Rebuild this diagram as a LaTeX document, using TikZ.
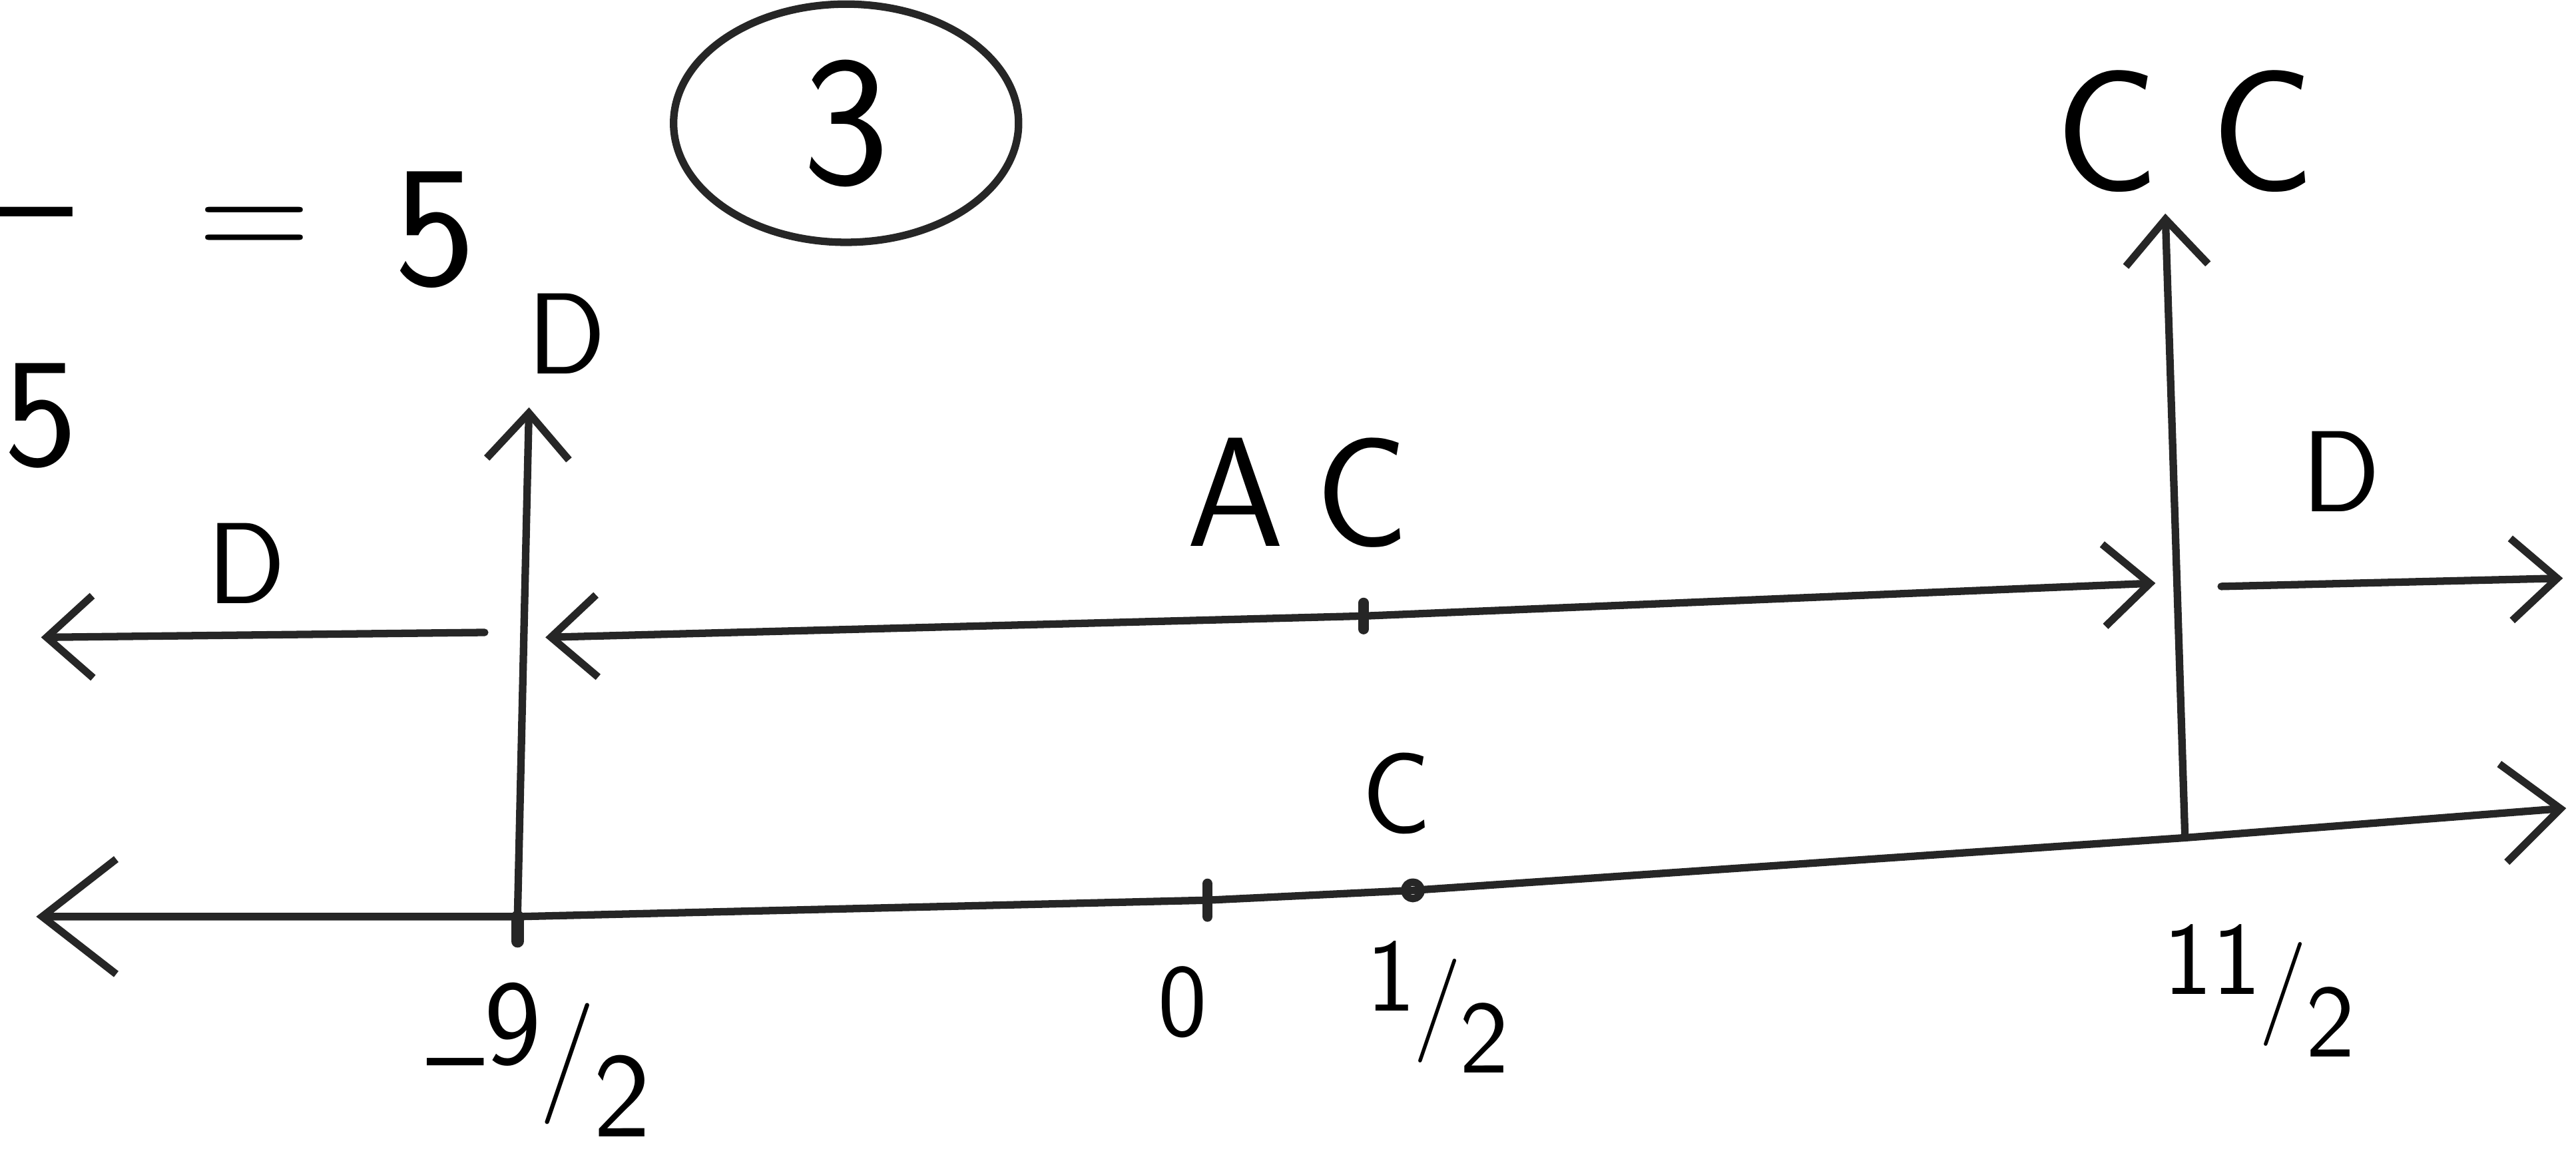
\documentclass[tikz,border=0pt]{standalone}
\usepackage{fontspec}
\usetikzlibrary{arrows.meta, shapes.geometric, calc}

\newcommand\slfrac[2]{\raisebox{0.25em}{#1}\kern-0.02em/\kern-0.02em\raisebox{-0.35em}{#2}}

\begin{document}
\begin{tikzpicture}[
    ink/.style={draw=black!85, line width=1.3pt, line cap=round, line join=round},
    arr/.style={ink, -{Straight Barb[length=2.8mm, width=5mm, line width=1.3pt]}},
    dblarr/.style={ink, {Straight Barb[length=2.8mm, width=5mm, line width=1.3pt]}-{Straight Barb[length=2.8mm, width=5mm, line width=1.3pt]}},
    axisarr/.style={ink, {Straight Barb[length=4.5mm, width=7mm, line width=1.3pt]}-{Straight Barb[length=3.5mm, width=6mm, line width=1.3pt]}},
    lbl/.style={font=\fontsize{20}{24}\selectfont\sffamily, inner sep=1pt},
    biglbl/.style={font=\fontsize{27}{32}\selectfont\sffamily, inner sep=1pt},
    numlbl/.style={font=\fontsize{18}{22}\selectfont\sffamily, inner sep=1pt}
  ]
    \useasboundingbox (0,0) rectangle (15.68,7.15);
    \clip (0,0) rectangle (15.68,7.15);

    % bits of the working at the top left
    \node[biglbl] (dash) at (0.22,5.75) {--};
    \node[biglbl] (eqsign) at (1.55,5.72) {=};
    \node[font=\fontsize{30}{34}\selectfont\sffamily] (five) at (2.65,5.75) {5};
    \node[biglbl] (fivecut) at (0.25,4.62) {5};
    \node[ellipse, ink, minimum width=2.1cm, minimum height=1.45cm,
          font=\fontsize{32}{36}\selectfont\sffamily] (qnum) at (5.15,6.40) {3};

    % number line
    \coordinate (lend) at (0.22,1.57);
    \coordinate (m92) at (3.15,1.57);
    \coordinate (zero) at (7.35,1.67);
    \coordinate (half) at (8.60,1.73);
    \coordinate (p112) at (13.30,2.05);
    \coordinate (rend) at (15.62,2.23);
    \draw[axisarr] (lend) -- (m92) -- (zero) -- (half) -- (p112) -- (rend);
    \draw[ink, line width=2.2pt] (m92) -- ++(0,-0.15);
    \draw[ink, line width=1.8pt] ($(zero)+(0,0.1)$) -- ++(0,-0.2);
    \draw[ink] (half) circle (0.05);

    \node[font=\fontsize{21}{25}\selectfont\sffamily, inner sep=1pt] (lm92) at (3.28,0.70) {--\slfrac{9}{2}};
    \node[numlbl] (lzero) at (7.20,1.05) {0};
    \node[numlbl] (lhalf) at (8.75,1.02) {\slfrac{1}{2}};
    \node[numlbl] (lp112) at (13.75,1.12) {\slfrac{11}{2}};
    \node[lbl] (chalf) at (8.50,2.32) {C};

    % vertical arrows
    \coordinate (dtop) at (3.22,4.67);
    \draw[arr] (m92) -- (dtop);
    \node[lbl] (dvert) at (3.45,5.12) {D};
    \coordinate (cctop) at (13.18,5.85);
    \draw[arr] (p112) -- (cctop);
    \node[font=\fontsize{30}{34}\selectfont\sffamily, inner sep=1pt] (cc) at (13.30,6.35) {C\hspace{0.3em}C};

    % upper line
    \coordinate (ul1) at (2.95,3.30);
    \coordinate (ul0) at (0.25,3.27);
    \draw[arr] (ul1) -- (ul0);
    \node[lbl] (dleft) at (1.50,3.72) {D};
    \coordinate (um0) at (3.32,3.27);
    \coordinate (umt) at (8.30,3.40);
    \coordinate (um1) at (13.12,3.60);
    \draw[dblarr] (um0) -- (umt) -- (um1);
    \draw[ink, line width=1.8pt] ($(umt)+(0,0.08)$) -- ++(0,-0.16);
    \node[biglbl] (ac) at (7.90,4.15) {A\hspace{0.2em}C};
    \coordinate (ur0) at (13.52,3.58);
    \coordinate (ur1) at (15.60,3.63);
    \draw[arr] (ur0) -- (ur1);
    \node[lbl] (dright) at (14.25,4.28) {D};
\end{tikzpicture}
\end{document}
